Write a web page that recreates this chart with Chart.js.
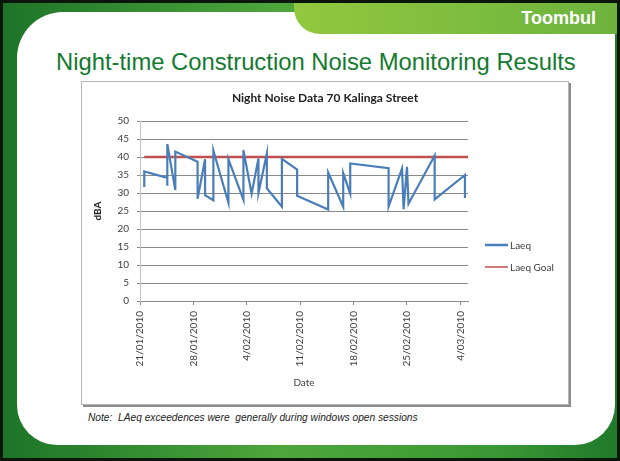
<!DOCTYPE html>
<html>
<head>
<meta charset="utf-8">
<script src="https://cdn.jsdelivr.net/npm/chart.js@4.4.0/dist/chart.umd.min.js"></script>
<style>
html,body{margin:0;padding:0;}
body{width:620px;height:461px;background:#0b160b;position:relative;overflow:hidden;font-family:"Liberation Sans",Arial,sans-serif;}
#frame{position:absolute;left:3px;top:3px;width:614px;height:455px;background:linear-gradient(90deg,#1d7428 0%,#4fa63b 45%,#3a9934 80%,#1f7a2a 100%);}
#panel{position:absolute;left:17px;top:12px;width:598px;height:433px;background:#fff;border-radius:46px 0 40px 40px;}
#tab{position:absolute;left:294px;top:3px;width:323px;height:31px;background:linear-gradient(90deg,#92c83e,#6cb33e);border-bottom-left-radius:26px;}
#tab span{position:absolute;right:21px;top:5px;color:#fff;font-weight:bold;font-size:18px;}
#title{position:absolute;left:56px;top:50px;line-height:24px;color:#137a2f;font-size:23.8px;white-space:nowrap;}
#box{position:absolute;left:81px;top:81px;width:486px;height:322px;border:1px solid #b5b5b5;box-shadow:2px 2px 0 #8c8c8c;background:#fff;}
#box canvas{display:block;}
#note{position:absolute;left:88px;top:412px;font-style:italic;font-size:10.2px;color:#222;white-space:pre;}
</style>
</head>
<body>
<div id="frame"></div>
<div id="panel"></div>
<div id="tab"><span>Toombul</span></div>
<div id="title">Night-time Construction Noise Monitoring Results</div>
<div id="box"><canvas id="myChart" width="486" height="322"></canvas></div>
<div id="note">Note:  LAeq exceedences were  generally during windows open sessions</div>
<script>
// days counted from 21/01/2010
var laeqDays = [0.56, 0.56, 3.58, 3.58, 3.58, 4.63, 4.63, 7.55, 7.55, 8.53, 8.53, 9.62, 9.62,
    11.59, 11.59, 13.56, 13.56, 14.63, 15.53, 15.53, 16.63, 16.63, 18.6, 18.6, 20.6, 20.6,
    24.67, 24.67, 26.64, 26.64, 27.56, 27.56, 32.59, 32.59, 34.35, 34.56, 35.0, 35.2,
    38.63, 38.63, 42.6, 42.6];
var laeqValues = [31.7, 36.0, 34.2, 32.0, 43.6, 30.8, 41.5, 38.7, 28.4, 39.4, 29.4, 28.0, 41.8,
    27.3, 39.4, 28.1, 41.9, 29.8, 39.6, 30.0, 41.0, 31.3, 26.2, 39.5, 36.5, 29.2,
    25.4, 35.7, 26.2, 35.5, 29.8, 38.2, 36.9, 26.2, 36.8, 25.5, 37.3, 27.0,
    40.4, 28.2, 35.0, 28.6];
var goalDays = [0.56, 43];
var goalValues = [40, 40];
var tickDays = [0, 7, 14, 21, 28, 35, 42];
var tickLabels = ['21/01/2010', '28/01/2010', '4/02/2010', '11/02/2010', '18/02/2010', '25/02/2010', '4/03/2010'];

function points(xs, ys){
    return xs.map(function(x, i){ return {x: x, y: ys[i]}; });
}

var sideLegend = {
    id: 'sideLegend',
    afterDraw: function(chart){
        var ctx = chart.ctx;
        var x0 = chart.chartArea.right + 17;
        chart.data.datasets.forEach(function(ds, i){
            var y = 163 + i * 22;
            ctx.save();
            ctx.strokeStyle = ds.borderColor;
            ctx.lineWidth = i === 0 ? 2.5 : 1.5;
            ctx.beginPath();
            ctx.moveTo(x0, y);
            ctx.lineTo(x0 + 23, y);
            ctx.stroke();
            ctx.fillStyle = '#404040';
            ctx.font = '10px Lato';
            ctx.textBaseline = 'middle';
            ctx.fillText(ds.label, x0 + 25, y + 1);
            ctx.restore();
        });
    }
};

Chart.defaults.font.family = 'Lato';
Chart.defaults.color = '#404040';

var ctx = document.getElementById('myChart').getContext('2d');
var chart = new Chart(ctx, {
    type: 'line',
    data: {
        datasets: [{
            label: 'Laeq',
            data: points(laeqDays, laeqValues),
            borderColor: '#4a7ebb',
            borderWidth: 2.2,
            pointRadius: 0,
            tension: 0
        }, {
            label: 'Laeq Goal',
            data: points(goalDays, goalValues),
            borderColor: '#c0504d',
            borderWidth: 2.4,
            pointRadius: 0,
            tension: 0
        }]
    },
    options: {
        responsive: false,
        animation: false,
        devicePixelRatio: 1,
        plugins: {
            legend: {display: false},
            tooltip: {enabled: false},
            title: {
                display: true,
                text: 'Night Noise Data 70 Kalinga Street',
                font: {size: 12, weight: 'bold'},
                color: '#222',
                padding: {top: 9, bottom: 15.6}
            }
        },
        scales: {
            x: {
                type: 'linear',
                min: 0,
                max: 43,
                afterBuildTicks: function(scale){
                    scale.ticks = tickDays.map(function(v){ return {value: v}; });
                },
                afterFit: function(scale){ scale.height = 103; },
                ticks: {
                    minRotation: 90,
                    maxRotation: 90,
                    padding: 6,
                    font: {size: 10},
                    callback: function(v){ return tickLabels[tickDays.indexOf(v)]; }
                },
                grid: {drawOnChartArea: false, drawTicks: true, tickLength: 4, color: '#8a8a8a'},
                border: {color: '#8a8a8a'},
                title: {display: true, text: 'Date', font: {size: 10}, padding: {bottom: 15}}
            },
            y: {
                min: 0,
                max: 50,
                afterFit: function(scale){ scale.width = 58; },
                ticks: {stepSize: 5, padding: 8, font: {size: 10}},
                grid: {color: '#8a8a8a', tickLength: 3},
                border: {color: '#c8c8c8'},
                title: {display: true, text: 'dBA', font: {size: 10, weight: 'bold'}, color: '#222', padding: {top: 10}}
            },
            // empty right-hand axis that keeps room for the legend
            side: {
                position: 'right',
                display: true,
                afterFit: function(scale){ scale.width = 100; },
                ticks: {display: false},
                grid: {display: false},
                border: {display: false}
            }
        }
    },
    plugins: [sideLegend]
});
</script>
</body>
</html>
